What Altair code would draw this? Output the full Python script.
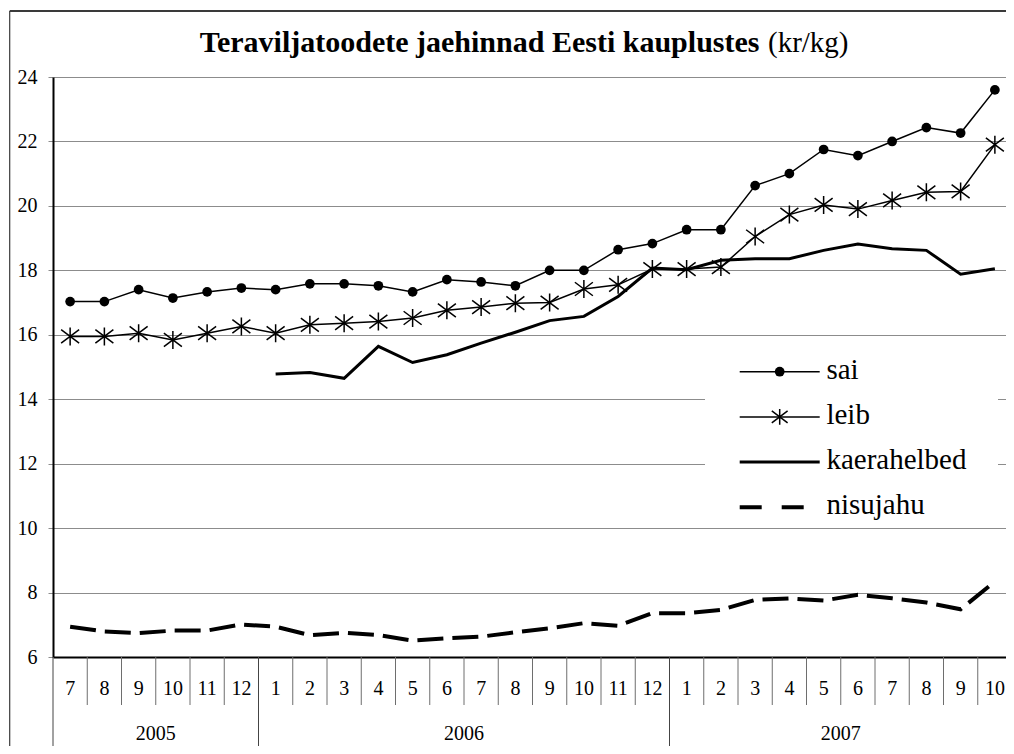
import altair as alt
import pandas as pd

# ---- data ----
months = [7, 8, 9, 10, 11, 12, 1, 2, 3, 4, 5, 6, 7, 8, 9, 10, 11, 12, 1, 2, 3, 4, 5, 6, 7, 8, 9, 10]
years = [2005] * 6 + [2006] * 12 + [2007] * 10
sai = [17.03, 17.03, 17.40, 17.14, 17.33, 17.45, 17.40, 17.58, 17.58, 17.52, 17.33, 17.71, 17.64, 17.52,
       18.00, 18.00, 18.64, 18.83, 19.26, 19.26, 20.63, 21.00, 21.75, 21.56, 22.00, 22.43, 22.26, 23.60]
leib = [15.95, 15.95, 16.05, 15.84, 16.05, 16.26, 16.05, 16.31, 16.36, 16.41, 16.52, 16.76, 16.86, 16.98,
        17.00, 17.42, 17.55, 18.04, 18.04, 18.10, 19.05, 19.73, 20.03, 19.90, 20.17, 20.42, 20.45, 21.90]
kaerahelbed = [None] * 6 + [14.78, 14.83, 14.65, 15.64, 15.14, 15.38, 15.74, 16.08, 16.44, 16.57, 17.19,
                            18.07, 18.02, 18.31, 18.36, 18.36, 18.62, 18.82, 18.67, 18.62, 17.88, 18.05]
nisujahu = [6.94, 6.79, 6.74, 6.82, 6.82, 7.01, 6.94, 6.68, 6.75, 6.68, 6.51, 6.58, 6.63, 6.77,
            6.89, 7.05, 6.97, 7.36, 7.36, 7.46, 7.77, 7.82, 7.75, 7.93, 7.82, 7.69, 7.48, 8.34]
series = ["sai", "leib", "kaerahelbed", "nisujahu"]
y_ticks = [6, 8, 10, 12, 14, 16, 18, 20, 22, 24]
title_bold = "Teraviljatoodete jaehinnad Eesti kauplustes"
title_unit = "(kr/kg)"

FONT = "Liberation Serif"
W, H = 959, 580
PAD_L, PAD_T = 45, 69
PAD_R = 998 - PAD_L - W      # negative: the right edge is cut off like in the reference
PAD_B = 738 - PAD_T - H

df = pd.DataFrame({
    "idx": list(range(len(months))),
    "month": [str(m) for m in months],
    "year": years,
    "sai": sai,
    "leib": leib,
    "kaerahelbed": kaerahelbed,
    "nisujahu": nisujahu,
})

# separators between month cells / year cells
sep_rows = [{"b": -0.5, "kind": "year"}]
for i in range(1, len(months)):
    sep_rows.append({"b": i - 0.5, "kind": "year" if months[i] == 1 else "month"})
sep_df = pd.DataFrame(sep_rows)

year_df = df.groupby("year", as_index=False)["idx"].mean().rename(columns={"idx": "c"})
year_df["label"] = year_df["year"].astype(str)

leg_df = pd.DataFrame({"name": series, "i": range(len(series))})
leg_df["ly"] = 294.7 + 45.2 * leg_df["i"]
leg_df["ty"] = leg_df["ly"] + 7

one = pd.DataFrame({"k": [0]})

xs = alt.Scale(domain=[-0.5, len(months) - 0.5], nice=False, zero=False)
xaxis = alt.Axis(labels=False, ticks=False, grid=False, domainColor="black", domainWidth=2, title=None)
ys = alt.Scale(domain=[6, 24], nice=False, zero=False)
yaxis = alt.Axis(values=y_ticks, grid=True, gridColor="#8c8c8c", gridWidth=1, tickColor="#8c8c8c",
                 tickSize=5, labelPadding=11, labelFontSize=20, labelColor="black", labelFont=FONT,
                 domainColor="black", domainWidth=2, title=None)


def X(field):
    return alt.X(f"{field}:Q", scale=xs, axis=xaxis)


def Y(field):
    return alt.Y(f"{field}:Q", scale=ys, axis=yaxis)


base = alt.Chart(df)
STAR = "M-1,-0.75L1,0.75M-1,0.75L1,-0.75M0,-1L0,1"

nisu_line = base.mark_line(color="black", strokeWidth=4, strokeDash=[26, 9], strokeCap="butt").encode(
    x=X("idx"), y=Y("nisujahu"))
kaera_line = base.mark_line(color="black", strokeWidth=3).encode(x=X("idx"), y=Y("kaerahelbed"))
leib_line = base.mark_line(color="black", strokeWidth=1.5).encode(x=X("idx"), y=Y("leib"))
leib_pts = base.mark_point(shape=STAR, filled=False, stroke="black", strokeWidth=1.5, size=324,
                           opacity=1).encode(x=X("idx"), y=Y("leib"))
sai_line = base.mark_line(color="black", strokeWidth=1.5).encode(x=X("idx"), y=Y("sai"))
sai_pts = base.mark_point(shape="circle", filled=True, color="black", size=95, opacity=1).encode(
    x=X("idx"), y=Y("sai"))

# x-axis category table
sep = alt.Chart(sep_df)
sep_month = sep.transform_filter(alt.datum.kind == "month").mark_rule(color="#6e6e6e", strokeWidth=1).encode(
    x=X("b"), y=alt.value(H), y2=alt.value(H + 48))
sep_year = sep.transform_filter(alt.datum.kind == "year").mark_rule(color="#444444", strokeWidth=1).encode(
    x=X("b"), y=alt.value(H), y2=alt.value(H + 100))
month_lbl = base.mark_text(font=FONT, fontSize=20, align="center", baseline="alphabetic", color="black").encode(
    x=X("idx"), y=alt.value(H + 38), text="month:N")
year_lbl = alt.Chart(year_df).mark_text(font=FONT, fontSize=20, align="center", baseline="alphabetic",
                                        color="black").encode(
    x=X("c"), y=alt.value(H + 83), text="label:N")

# legend
leg = alt.Chart(leg_df)
leg_bg = alt.Chart(one).mark_rect(fill="white").encode(
    x=alt.value(652), x2=alt.value(945), y=alt.value(262), y2=alt.value(447))
LY = alt.Y("ly:Q", scale=None, axis=None)
leg_thin = leg.transform_filter("datum.name == 'sai' || datum.name == 'leib'").mark_rule(
    color="black", strokeWidth=1.5).encode(x=alt.value(686.7), x2=alt.value(766.7), y=LY)
leg_thick = leg.transform_filter("datum.name == 'kaerahelbed'").mark_rule(
    color="black", strokeWidth=3).encode(x=alt.value(686.7), x2=alt.value(766.7), y=LY)
leg_dash = leg.transform_filter("datum.name == 'nisujahu'").mark_rule(
    color="black", strokeWidth=4, strokeDash=[22, 20], strokeCap="butt").encode(
    x=alt.value(686.7), x2=alt.value(755), y=LY)
leg_dot = leg.transform_filter("datum.name == 'sai'").mark_point(
    shape="circle", filled=True, color="black", size=95, opacity=1).encode(x=alt.value(726.7), y=LY)
leg_star = leg.transform_filter("datum.name == 'leib'").mark_point(
    shape=STAR, filled=False, stroke="black", strokeWidth=1.5, size=250, opacity=1).encode(
    x=alt.value(726.7), y=LY)
leg_txt = leg.mark_text(font=FONT, fontSize=29, align="left", baseline="alphabetic", color="black").encode(
    x=alt.value(773.4), y=alt.Y("ty:Q", scale=None, axis=None), text="name:N")

# title and frame
t1 = alt.Chart(one).mark_text(text=title_bold, font=FONT, fontSize=30, fontWeight="bold", align="left",
                              baseline="alphabetic", color="black").encode(
    x=alt.value(146.7), y=alt.value(-24.7))
t2 = alt.Chart(one).mark_text(text=title_unit, font=FONT, fontSize=29, align="left",
                              baseline="alphabetic", color="black").encode(
    x=alt.value(715), y=alt.value(-24.7))
frame_top = alt.Chart(one).mark_rule(color="#3a3a3a", strokeWidth=2).encode(
    x=alt.value(-43.3), x2=alt.value(W + 60), y=alt.value(-66))
frame_left = alt.Chart(one).mark_rule(color="#3a3a3a", strokeWidth=1.2).encode(
    x=alt.value(-43.3), y=alt.value(-66), y2=alt.value(H + 120))

chart = alt.layer(
    nisu_line, kaera_line, leib_line, leib_pts, sai_line, sai_pts,
    sep_month, sep_year, month_lbl, year_lbl,
    leg_bg, leg_thin, leg_thick, leg_dash, leg_dot, leg_star, leg_txt,
    t1, t2, frame_top, frame_left,
).properties(
    width=W, height=H,
    autosize=alt.AutoSizeParams(type="none"),
    padding={"left": PAD_L, "top": PAD_T, "right": PAD_R, "bottom": PAD_B},
    background="white",
).configure(font=FONT).configure_view(stroke=None)

chart.save("out.html", embed_options={"renderer": "svg", "actions": False})
